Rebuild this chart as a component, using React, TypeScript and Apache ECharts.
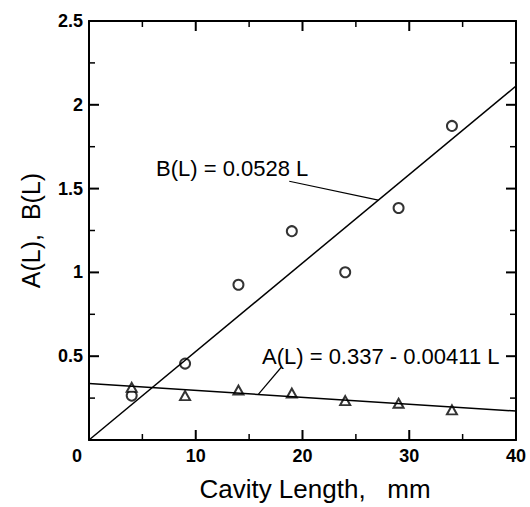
import React, { useEffect, useRef } from "react";
import * as echarts from "echarts";

// Measured points: cavity length (mm) against the fitted coefficients
const cavityLengthMm = [4, 9, 14, 19, 24, 29, 34];
const bMeasured = [0.265, 0.456, 0.926, 1.246, 1.001, 1.384, 1.874];
const aMeasured = [0.314, 0.265, 0.298, 0.28, 0.235, 0.219, 0.18];

// Fit coefficients as printed on the equations
const bSlope = 0.0528;
const aIntercept = 0.337;
const aSlope = -0.00411;
const fitRange = [0, 40];

// Axis ticks
const xTicks = [0, 10, 20, 30, 40];
const yTicks = [0, 0.5, 1, 1.5, 2, 2.5];

// Text
const xTitle = "Cavity Length,   mm";
const yTitle = "A(L),  B(L)";
const bEquation = "B(L) = 0.0528 L";
const aEquation = "A(L) = 0.337 - 0.00411 L";

// Leader lines from each equation to its fit line (data coordinates)
const bLeader = [
  [18.76, 1.544],
  [27.1, 1.431],
];
const aLeader = [
  [18.05, 0.437],
  [15.86, 0.272],
];

const FONT = "'Liberation Sans', Arial, Helvetica, sans-serif";

const GRID = { left: 89, right: 14, top: 21, bottom: 64 };
const CHART_W = 530;
const CHART_H = 507;

const xMin = xTicks[0];
const xMax = xTicks[xTicks.length - 1];
const yMin = yTicks[0];
const yMax = yTicks[yTicks.length - 1];

const MAJOR_PX = 10;
const MINOR_PX = 6;

const bFit = fitRange.map((x) => [x, bSlope * x]);
const aFit = fitRange.map((x) => [x, aIntercept + aSlope * x]);

const interior = (t: number[]) => t.slice(1, -1);
const midpoints = (t: number[]) => t.slice(1).map((v, i) => (v + t[i]) / 2);

// Tick descriptors: [value, side (0 bottom, 1 top, 2 left, 3 right), length px, width px]
function frameTickData() {
  const out: number[][] = [];
  interior(xTicks).forEach((v) => {
    out.push([v, 0, MAJOR_PX, 2], [v, 1, MAJOR_PX, 2]);
  });
  midpoints(xTicks).forEach((v) => {
    out.push([v, 0, MINOR_PX, 1.5], [v, 1, MINOR_PX, 1.5]);
  });
  interior(yTicks).forEach((v) => {
    out.push([v, 2, MAJOR_PX, 2], [v, 3, MAJOR_PX, 2]);
  });
  midpoints(yTicks).forEach((v) => {
    out.push([v, 2, MINOR_PX, 1.5], [v, 3, MINOR_PX, 1.5]);
  });
  return out;
}

// Inward tick marks drawn through the cartesian coordinate system
function renderFrameTick(_params: any, api: any) {
  const v = api.value(0);
  const side = api.value(1);
  const len = api.value(2);
  const w = api.value(3);
  let p: number[];
  let dx = 0;
  let dy = 0;
  if (side === 0) {
    p = api.coord([v, yMin]);
    dy = -len;
  } else if (side === 1) {
    p = api.coord([v, yMax]);
    dy = len;
  } else if (side === 2) {
    p = api.coord([xMin, v]);
    dx = len;
  } else {
    p = api.coord([xMax, v]);
    dx = -len;
  }
  return {
    type: "line",
    shape: { x1: p[0], y1: p[1], x2: p[0] + dx, y2: p[1] + dy },
    style: { stroke: "#000", lineWidth: w },
  };
}

const tickLabel = () => ({
  color: "#000",
  fontSize: 18,
  fontWeight: "bold" as const,
  fontFamily: FONT,
});

const frame = () => ({
  axisLine: { show: true, onZero: false, lineStyle: { color: "#000", width: 2 } },
  axisTick: { show: false },
  minorTick: { show: false },
  splitLine: { show: false },
});

const xRange = () => ({
  type: "value" as const,
  min: xMin,
  max: xMax,
  interval: xTicks[1] - xTicks[0],
});
const yRange = () => ({
  type: "value" as const,
  min: yMin,
  max: yMax,
  interval: yTicks[1] - yTicks[0],
});

function leaderMarkLine(pts: number[][]) {
  return {
    silent: true,
    symbol: "none",
    label: { show: false },
    lineStyle: { color: "#000", width: 1.2, type: "solid" as const },
    data: [[{ coord: pts[0] }, { coord: pts[1] }]],
  };
}

export default function App() {
  const ref = useRef<HTMLDivElement>(null);

  useEffect(() => {
    if (!ref.current) return;
    const chart = echarts.init(ref.current, undefined, { renderer: "svg" });
    chart.setOption({
      animation: false,
      grid: { ...GRID },
      xAxis: [
        {
          ...xRange(),
          ...frame(),
          position: "bottom",
          name: xTitle,
          nameLocation: "middle",
          nameGap: 36,
          nameTextStyle: {
            color: "#000",
            fontSize: 26,
            fontFamily: FONT,
            padding: [0, 0, 0, 25],
          },
          axisLabel: {
            ...tickLabel(),
            margin: 7,
            formatter: (v: number) => (v === 0 ? "{z|0}" : String(v)),
            rich: { z: { ...tickLabel(), padding: [0, 24, 0, 0] } },
          },
        },
        {
          ...xRange(),
          ...frame(),
          position: "top",
          axisLabel: { show: false },
        },
      ],
      yAxis: [
        {
          ...yRange(),
          ...frame(),
          position: "left",
          name: yTitle,
          nameLocation: "middle",
          nameGap: 46,
          nameRotate: 90,
          nameTextStyle: { color: "#000", fontSize: 25, fontFamily: FONT },
          axisLabel: {
            ...tickLabel(),
            margin: 6,
            formatter: (v: number) => (v === 0 ? "" : String(v)),
          },
        },
        {
          ...yRange(),
          ...frame(),
          position: "right",
          axisLabel: { show: false },
        },
      ],
      series: [
        {
          name: "frame ticks",
          type: "custom",
          renderItem: renderFrameTick,
          data: frameTickData(),
          clip: false,
          silent: true,
          z: 5,
        },
        {
          name: "B(L) fit",
          type: "line",
          data: bFit,
          symbol: "none",
          lineStyle: { color: "#000", width: 1.5 },
          markLine: leaderMarkLine(bLeader),
        },
        {
          name: "A(L) fit",
          type: "line",
          data: aFit,
          symbol: "none",
          lineStyle: { color: "#000", width: 1.5 },
          markLine: leaderMarkLine(aLeader),
        },
        {
          name: "B(L)",
          type: "scatter",
          data: cavityLengthMm.map((x, i) => [x, bMeasured[i]]),
          symbol: "emptyCircle",
          symbolSize: 10,
          itemStyle: { color: "#000", borderColor: "#000", borderWidth: 1.5 },
        },
        {
          name: "A(L)",
          type: "scatter",
          data: cavityLengthMm.map((x, i) => [x, aMeasured[i]]),
          symbol: "emptyTriangle",
          symbolSize: [10, 9],
          itemStyle: { color: "#000", borderColor: "#000", borderWidth: 1.5 },
        },
      ],
      graphic: [
        {
          type: "text",
          x: 156,
          y: 168,
          style: {
            text: bEquation,
            fill: "#000",
            fontSize: 22,
            fontFamily: FONT,
            align: "left",
            verticalAlign: "middle",
          },
        },
        {
          type: "text",
          x: 262,
          y: 356,
          style: {
            text: aEquation,
            fill: "#000",
            fontSize: 22,
            fontFamily: FONT,
            align: "left",
            verticalAlign: "middle",
          },
        },
      ],
    });
    return () => chart.dispose();
  }, []);

  return (
    <div
      ref={ref}
      style={{ position: "fixed", left: 0, top: 0, width: CHART_W, height: CHART_H, background: "#fff" }}
    />
  );
}
